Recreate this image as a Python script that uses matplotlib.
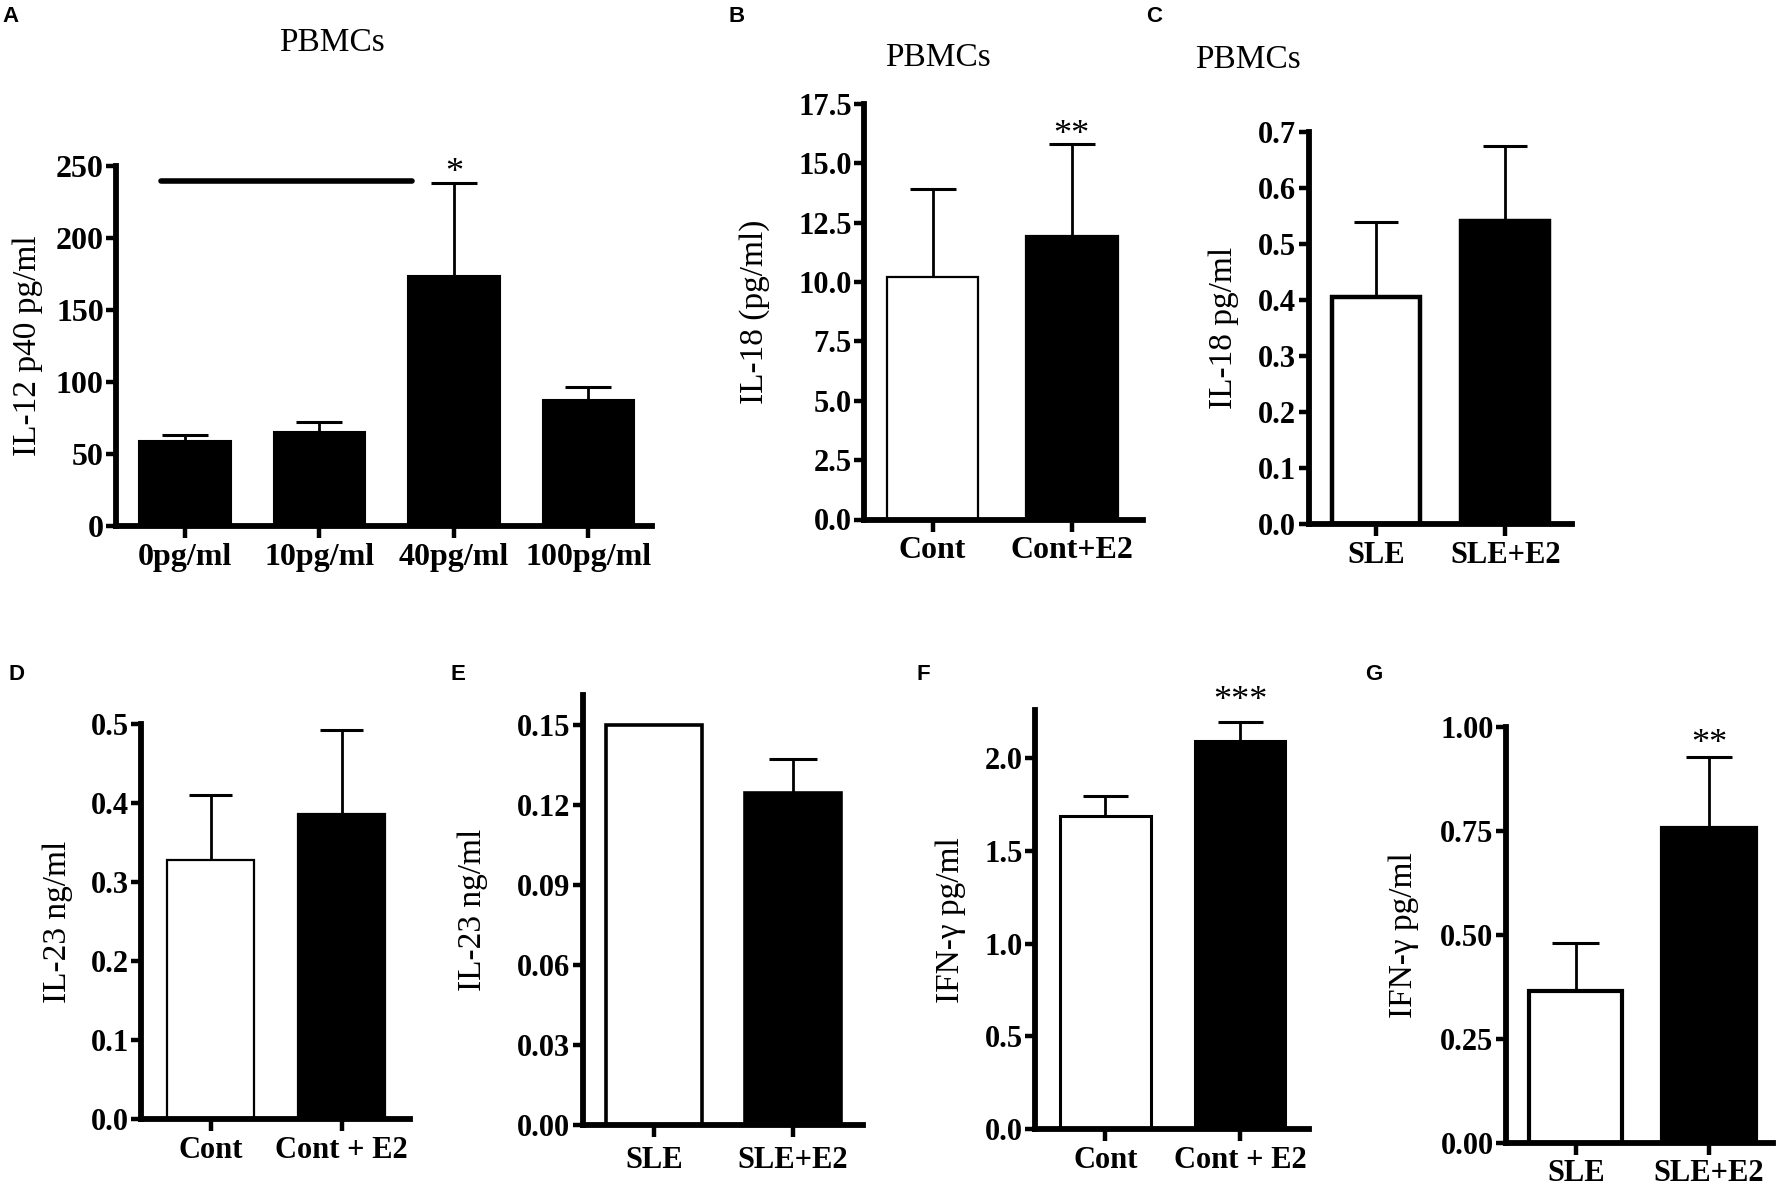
import numpy as np
import matplotlib.pyplot as plt

plt.rcParams['font.family'] = ['Liberation Serif', 'DejaVu Serif']

W, H = 1780, 1192

# ---- data ----
a_labels = ['0pg/ml', '10pg/ml', '40pg/ml', '100pg/ml']
a_vals = [58.8, 65.5, 173.6, 87.3]
a_err = [4.7, 6.8, 64.7, 9.3]
a_line_x = [-0.18, 1.69]
a_line_y = 239.5

b_labels = ['Cont', 'Cont+E2']
b_vals = [10.2, 11.96]
b_err = [3.74, 3.85]

c_labels = ['SLE', 'SLE+E2']
c_vals = [0.405, 0.541]
c_err = [0.134, 0.134]

d_labels = ['Cont', 'Cont + E2']
d_vals = [0.328, 0.387]
d_err = [0.082, 0.106]

e_labels = ['SLE', 'SLE+E2']
e_vals = [0.150, 0.1244]
e_err = [0.0, 0.0129]

f_labels = ['Cont', 'Cont + E2']
f_vals = [1.688, 2.088]
f_err = [0.108, 0.104]

g_labels = ['SLE', 'SLE+E2']
g_vals = [0.365, 0.756]
g_err = [0.115, 0.173]

fig = plt.figure(figsize=(W / 100, H / 100), dpi=100)


def panel(box, labels, vals, errs, colors, ylim, yticks, fmt, ylabel, labx,
          xlim, width, ysize, xsize, edge, xpad=3.5):
    l, r, t, b = box
    ax = fig.add_axes([l / W, 1 - b / H, (r - l) / W, (b - t) / H])
    x = np.arange(len(vals))
    tops = np.add(vals, errs)
    ax.vlines(x, vals, tops, color='k', lw=2.0, zorder=1)
    ax.hlines(tops, x - width / 4, x + width / 4, color='k', lw=2.2, zorder=1)
    ax.bar(x, vals, width, color=colors, edgecolor='k', linewidth=edge, zorder=2)
    ax.set_xlim(*xlim)
    ax.set_ylim(*ylim)
    ax.set_yticks(yticks)
    ax.set_yticklabels([fmt % v for v in yticks])
    ax.set_xticks(x)
    ax.set_xticklabels(labels)
    for s in ['top', 'right']:
        ax.spines[s].set_visible(False)
    for s in ['left', 'bottom']:
        ax.spines[s].set_linewidth(4.2)
    ax.tick_params(axis='y', direction='out', length=7.5, width=3.2,
                   labelsize=ysize, pad=1.5)
    ax.tick_params(axis='x', direction='out', length=8.5, width=3.2,
                   labelsize=xsize, pad=xpad)
    plt.setp(ax.get_xticklabels() + ax.get_yticklabels(), fontweight='bold')
    ax.set_ylabel(ylabel, fontsize=24, va='center')
    ax.yaxis.set_label_coords(labx, 0.5)
    return ax


def stars(ax, x, y, s):
    ax.annotate(s, (x, y), xytext=(0, -12.5), textcoords='offset points',
                ha='center', va='baseline', fontsize=26, annotation_clip=False)


wb = ['white', 'black']

ax = panel((116.3, 651.5, 166, 526.1), a_labels, a_vals, a_err, 'black',
           (0, 250), [0, 50, 100, 150, 200, 250], '%d', 'IL-12 p40 pg/ml',
           -0.166, (-0.51, 3.47), 0.68, 23, 23, 1.5)
ax.plot(a_line_x, [a_line_y, a_line_y], color='k', lw=4.0,
        solid_capstyle='round', clip_on=False)
stars(ax, 2, 251, '*')

ax = panel((864.4, 1142.6, 104, 519.5), b_labels, b_vals, b_err, wb,
           (0, 17.5), [0, 2.5, 5, 7.5, 10, 12.5, 15, 17.5], '%.1f',
           'IL-18 (pg/ml)', -0.393, (-0.49, 1.51), 0.66, 22, 23, 1.6)
stars(ax, 1, 16.56, '**')

ax = panel((1308.8, 1572.3, 132, 524.2), c_labels, c_vals, c_err, wb,
           (0, 0.7), [0, 0.1, 0.2, 0.3, 0.4, 0.5, 0.6, 0.7], '%.1f',
           'IL-18 pg/ml', -0.322, (-0.52, 1.52), 0.685, 22, 22, 3.2)

ax = panel((141.3, 409.6, 724.2, 1119.4), d_labels, d_vals, d_err, wb,
           (0, 0.5), [0, 0.1, 0.2, 0.3, 0.4, 0.5], '%.1f',
           'IL-23 ng/ml', -0.312, (-0.53, 1.52), 0.66, 22, 22, 1.6)

ax = panel((582.7, 862.5, 694.8, 1125.4), e_labels, e_vals, e_err, wb,
           (0, 0.1613), [0, 0.03, 0.06, 0.09, 0.12, 0.15], '%.2f',
           'IL-23 ng/ml', -0.392, (-0.516, 1.5), 0.69, 22, 22, 2.6, xpad=6)

ax = panel((1035.4, 1309, 710, 1129.3), f_labels, f_vals, f_err, wb,
           (0, 2.257), [0, 0.5, 1.0, 1.5, 2.0], '%.1f',
           'IFN-γ pg/ml', -0.309, (-0.52, 1.51), 0.67, 22, 22, 2.2)
stars(ax, 1, 2.349, '***')

ax = panel((1506, 1773, 727, 1142.6), g_labels, g_vals, g_err, wb,
           (0, 1.0), [0, 0.25, 0.5, 0.75, 1.0], '%.2f',
           'IFN-γ pg/ml', -0.384, (-0.524, 1.48), 0.70, 22, 22, 3.0)
stars(ax, 1, 0.98, '**')

# titles and panel letters
for x, y in [(332, 42.5), (938, 57.6), (1248, 59.5)]:
    fig.text(x / W, 1 - y / H, 'PBMCs', ha='center', va='center', fontsize=24)

for s, x, y in [('A', 2, 16.7), ('B', 728, 16.7), ('C', 1146, 16.7),
                ('D', 8.7, 675), ('E', 450, 675), ('F', 917, 675),
                ('G', 1365, 675)]:
    fig.text(x / W, 1 - y / H, s, ha='left', va='center', fontsize=16,
             fontweight='bold', family=['Liberation Sans', 'DejaVu Sans'])

fig.savefig('out.png', dpi=100)
